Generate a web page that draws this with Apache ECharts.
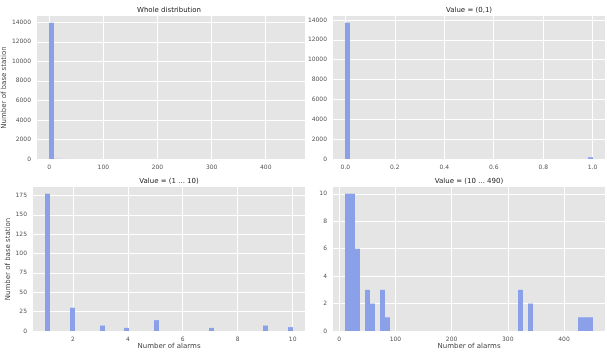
<!DOCTYPE html>
<html>
<head>
<meta charset="utf-8">
<script src="https://cdn.jsdelivr.net/npm/echarts@6/dist/echarts.min.js"></script>
<style>
  html, body { margin: 0; padding: 0; background: #fff; }
  #chart { width: 607px; height: 352px; }
</style>
</head>
<body>
<div id="chart"></div>
<script>
// histogram bins: bin index (50 bins per panel) and count
const wholeBins = [0, 1, 2, 3, 5, 6, 8, 9, 35, 37, 47, 48, 49];
const wholeCounts = [13956, 18, 10, 6, 3, 2, 3, 1, 3, 2, 1, 1, 1];

const zeroOneBins = [0, 49];
const zeroOneCounts = [13720, 177];

const lowBins = [0, 5, 11, 16, 22, 33, 44, 49];
const lowCounts = [177, 30, 7, 4, 14, 4, 7, 5];

const highBins = [0, 1, 2, 4, 5, 7, 8, 35, 37, 47, 48, 49];
const highCounts = [10, 10, 6, 3, 2, 3, 1, 3, 2, 1, 1, 1];

// tick labels
const wholeXTicks = [0, 100, 200, 300, 400];
const countYTicks = [0, 2000, 4000, 6000, 8000, 10000, 12000, 14000];
const zeroOneXTicks = [0, 0.2, 0.4, 0.6, 0.8, 1.0];
const lowXTicks = [2, 4, 6, 8, 10];
const lowYTicks = [0, 25, 50, 75, 100, 125, 150, 175];
const highXTicks = [0, 100, 200, 300, 400];
const highYTicks = [0, 2, 4, 6, 8, 10];

const panels = [
  { title: 'Whole distribution', start: 0, end: 450, bins: wholeBins, counts: wholeCounts,
    xTicks: wholeXTicks, yTicks: countYTicks, grid: { left: 33, top: 16, width: 272, height: 143 },
    yName: 'Number of base station', xName: '', fmt: v => String(v) },
  { title: 'Value = (0,1)', start: 0, end: 1, bins: zeroOneBins, counts: zeroOneCounts,
    xTicks: zeroOneXTicks, yTicks: countYTicks, grid: { left: 333, top: 16, width: 272, height: 143 },
    yName: '', xName: '', fmt: v => v.toFixed(1) },
  { title: 'Value = (1 ... 10)', start: 1, end: 10, bins: lowBins, counts: lowCounts,
    xTicks: lowXTicks, yTicks: lowYTicks, grid: { left: 33, top: 187, width: 272, height: 144 },
    yName: 'Number of base station', xName: 'Number of alarms', fmt: v => String(v) },
  { title: 'Value = (10 ... 490)', start: 11, end: 451, bins: highBins, counts: highCounts,
    xTicks: highXTicks, yTicks: highYTicks, grid: { left: 333, top: 187, width: 272, height: 144 },
    yName: '', xName: 'Number of alarms', fmt: v => String(v) }
];

const FONT = 'DejaVu Sans';
const labelStyle = { color: '#555', fontSize: 6, fontFamily: FONT };
const BAR = '#8aa0e8';

const grids = [], xAxes = [], yAxes = [], series = [], graphics = [];

panels.forEach((p, i) => {
  const range = p.end - p.start;
  const width = range / 50;
  const maxCount = Math.max(...p.counts);
  grids.push(Object.assign({ show: true, backgroundColor: '#e5e5e5', borderWidth: 0 }, p.grid));
  xAxes.push({
    type: 'value', gridIndex: i,
    min: p.start - range * 0.05, max: p.end + range * 0.05,
    axisLine: { show: false },
    axisTick: { show: false, customValues: p.xTicks },
    axisLabel: Object.assign({ customValues: p.xTicks, margin: 5, formatter: p.fmt }, labelStyle),
    splitLine: { show: true, lineStyle: { color: '#fff', width: 1 } },
    name: p.xName, nameLocation: 'middle', nameGap: 12,
    nameTextStyle: { color: '#444', fontSize: 7, fontFamily: FONT }
  });
  yAxes.push({
    type: 'value', gridIndex: i,
    min: 0, max: maxCount * 1.05,
    axisLine: { show: false },
    axisTick: { show: false, customValues: p.yTicks },
    axisLabel: Object.assign({ customValues: p.yTicks, margin: 6, formatter: v => String(v) }, labelStyle),
    splitLine: { show: true, lineStyle: { color: '#fff', width: 1 } },
    name: p.yName, nameLocation: 'middle', nameGap: 21,
    nameTextStyle: { color: '#444', fontSize: 7, fontFamily: FONT }
  });
  series.push({
    type: 'custom', xAxisIndex: i, yAxisIndex: i,
    data: p.bins.map((b, k) => [p.start + b * width, p.start + (b + 1) * width, p.counts[k]]),
    renderItem: (params, api) => {
      const tl = api.coord([api.value(0), api.value(2)]);
      const br = api.coord([api.value(1), 0]);
      const x0 = Math.round(tl[0]);
      const x1 = Math.round(br[0]);
      return {
        type: 'rect',
        shape: { x: x0, y: tl[1], width: x1 - x0, height: br[1] - tl[1] },
        style: { fill: BAR }
      };
    },
    silent: true
  });
  graphics.push({
    type: 'text',
    x: p.grid.left + p.grid.width / 2, y: p.grid.top - 6,
    style: { text: p.title, textAlign: 'center', textVerticalAlign: 'middle',
             fill: '#222', fontSize: 7, fontFamily: FONT }
  });
});

const chart = echarts.init(document.getElementById('chart'));
chart.setOption({
  animation: false,
  backgroundColor: '#fff',
  grid: grids,
  xAxis: xAxes,
  yAxis: yAxes,
  series: series,
  graphic: graphics
});
</script>
</body>
</html>
